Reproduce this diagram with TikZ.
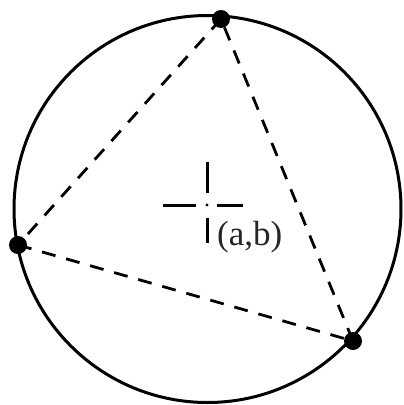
\documentclass[tikz,border=0pt]{standalone}
\usepackage{fontspec}
\newfontfamily\timesfont{Liberation Serif}
\begin{document}
\begin{tikzpicture}[x=1pt,y=-1pt,
  rim/.style={line width=3pt},
  chord/.style={line width=2.8pt,dash pattern=on 14pt off 11pt},
  axis/.style={line width=3pt},
  vertex/.style={circle,fill=black,inner sep=0pt,minimum size=18pt}]
\useasboundingbox (0,0) rectangle (404,405);
\coordinate (O) at (207.5,209);
\draw[rim] (O) circle[radius=193.5];
\node[vertex] (A) at (221,19) {};
\node[vertex] (B) at (18,245) {};
\node[vertex] (C) at (353,341) {};
\draw[chord] (A.center) -- (B.center);
\draw[chord] (B.center) -- (C.center);
\draw[chord] (C.center) -- (A.center);
% centre mark
\coordinate (M) at (207,205);
\coordinate (ML1) at (163,205); \coordinate (ML2) at (196,205);
\coordinate (MR1) at (217,205); \coordinate (MR2) at (243,205);
\coordinate (MT1) at (207,162); \coordinate (MT2) at (207,193);
\coordinate (MB1) at (207,218); \coordinate (MB2) at (207,243);
\draw[axis] (ML1) -- (ML2);
\draw[axis] (MR1) -- (MR2);
\draw[axis] (MT1) -- (MT2);
\draw[axis] (MB1) -- (MB2);
\fill (M) circle[radius=1.6];
\node[anchor=base west,inner sep=0pt,text=black!85,font=\timesfont\fontsize{35}{38}\selectfont] (lab) at (217,245) {(a,b)};
\end{tikzpicture}
\end{document}
